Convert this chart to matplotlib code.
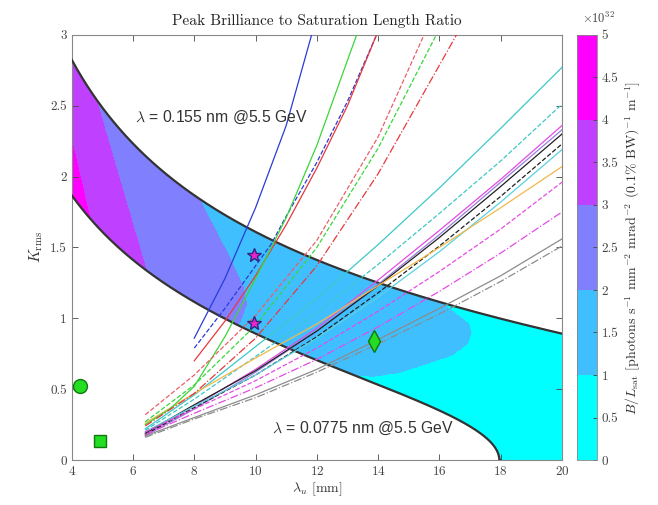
import numpy as np
import matplotlib.pyplot as plt
from matplotlib.colors import ListedColormap
from matplotlib.path import Path
from matplotlib.patches import PathPatch

plt.rcParams['font.family'] = 'cmr10'
plt.rcParams['mathtext.fontset'] = 'cm'
plt.rcParams['axes.formatter.use_mathtext'] = True

# resonance condition: lambda = lambda_u / (2 gamma^2) * (1 + K_rms^2)
energy_gev = 5.5
wl_upper_nm = 0.155
wl_lower_nm = 0.0775

# B/L_sat level boundaries (x = lambda_u [mm], y = K_rms)
b4_lu = [3.9, 4.68]
b4_k = [2.35, 1.62]
b3_lu = [4.45, 6.55]
b3_k = [2.80, 1.25]
b2_lu = [7.9, 8.5, 9.1, 9.6, 9.7, 9.5, 9.1]
b2_k = [1.95, 1.70, 1.45, 1.22, 1.10, 0.98, 0.90]
b1_lu = [15.9, 16.11, 16.6, 16.95, 17.04, 16.9, 16.4, 15.57, 14.7, 13.83, 12.74, 12.04, 11.9]
b1_k = [1.30, 1.10, 1.02, 0.96, 0.90, 0.82, 0.74, 0.68, 0.62, 0.59, 0.61, 0.71, 0.60]

# undulator curves starting at 6.4 mm, ending at right edge
lu_fan = [6.4, 8, 10, 12, 14, 16, 18, 20]
k_cyan = [0.22, 0.46, 0.80, 1.14, 1.52, 1.92, 2.34, 2.77]
k_cyan_dash = [0.21, 0.43, 0.73, 1.04, 1.38, 1.74, 2.11, 2.51]
k_magenta = [0.18, 0.38, 0.64, 0.93, 1.27, 1.62, 1.98, 2.36]
k_lilac = [0.17, 0.36, 0.62, 0.91, 1.24, 1.59, 1.96, 2.33]
k_black = [0.19, 0.39, 0.63, 0.91, 1.23, 1.57, 1.93, 2.30]
k_black_dash = [0.18, 0.37, 0.60, 0.87, 1.18, 1.51, 1.86, 2.23]
k_cyan_thin = [0.20, 0.38, 0.60, 0.86, 1.15, 1.47, 1.82, 2.19]
k_orange = [0.26, 0.47, 0.72, 0.96, 1.23, 1.50, 1.78, 2.07]
k_magenta_dash = [0.20, 0.36, 0.56, 0.79, 1.05, 1.33, 1.63, 1.96]
k_magenta_dashdot = [0.18, 0.33, 0.51, 0.71, 0.94, 1.19, 1.46, 1.75]
k_grey = [0.17, 0.30, 0.46, 0.64, 0.85, 1.07, 1.30, 1.56]
k_grey_dashdot = [0.16, 0.29, 0.44, 0.62, 0.82, 1.03, 1.26, 1.51]

# steep undulator curves leaving through the top
lu_blue = [8, 9, 10, 11, 11.83]
k_blue = [0.86, 1.28, 1.78, 2.36, 3.0]
lu_blue_dash = [8, 9, 10, 10.5, 11, 12, 13, 13.95]
k_blue_dash = [0.79, 1.07, 1.37, 1.52, 1.72, 2.10, 2.53, 3.0]
lu_red = [8, 9, 10, 11, 12, 13, 13.95]
k_red = [0.70, 0.98, 1.30, 1.66, 2.06, 2.50, 3.0]
lu_green = [6.4, 7.2, 8, 9, 10, 11, 12, 13.3]
k_green = [0.25, 0.36, 0.52, 0.87, 1.28, 1.71, 2.22, 3.0]
lu_red_dash = [6.4, 8, 10, 12, 14, 15.5]
k_red_dash = [0.32, 0.60, 1.02, 1.55, 2.28, 3.0]
lu_green_dash = [6.4, 8, 10, 12, 14, 15.9]
k_green_dash = [0.27, 0.53, 0.95, 1.50, 2.20, 3.0]
lu_red_dashdot = [6.4, 8, 10, 12, 14, 16.56]
k_red_dashdot = [0.24, 0.47, 0.86, 1.37, 2.02, 3.0]

# design points
circle_pt = (4.28, 0.52)
square_pt = (4.91, 0.137)
diamond_pt = (13.85, 0.84)
star_lu = [9.95, 9.95]
star_k = [1.45, 0.97]

cool5 = ListedColormap([(0, 1, 1), (0.25, 0.75, 1), (0.5, 0.5, 1), (0.75, 0.25, 1), (1, 0, 1)])

gamma = energy_gev * 1e3 / 0.51099895
two_g2 = 2 * gamma ** 2


def k_res(lu_mm, wl_nm):
    val = wl_nm * 1e-6 * two_g2 / lu_mm - 1
    return np.sqrt(np.clip(val, 0, None))


fig = plt.figure(figsize=(6.58, 5.05), dpi=100)
ax = fig.add_axes([0.109, 0.089, 0.745, 0.842])
cax = fig.add_axes([0.877, 0.089, 0.030, 0.842])

# field of B/L_sat levels
gx = np.linspace(4, 20, 1400)
gy = np.linspace(0, 3, 1000)
X, Y = np.meshgrid(gx, gy)
pts = np.column_stack([X.ravel(), Y.ravel()])
Z = np.full(X.shape, 0.5)
for blu, bk in [(b1_lu, b1_k), (b2_lu, b2_k), (b3_lu, b3_k), (b4_lu, b4_k)]:
    verts = [(blu[0], 5)] + list(zip(blu, bk)) + [(-1, bk[-1]), (-1, 5)]
    Z += Path(verts).contains_points(pts).reshape(X.shape)

cs = ax.contourf(X, Y, Z, levels=[0, 1, 2, 3, 4, 5], cmap=cool5, zorder=1)

# band between the two resonance curves
lu_dense = np.concatenate([np.linspace(4, 17.9, 600), np.linspace(17.9, 20, 400)])
k_up = k_res(lu_dense, wl_upper_nm)
k_lo = k_res(lu_dense, wl_lower_nm)
band = np.vstack([np.column_stack([lu_dense, k_up]),
                  np.column_stack([lu_dense[::-1], k_lo[::-1]])])
patch = PathPatch(Path(band), transform=ax.transData, facecolor='none', edgecolor='none')
ax.add_patch(patch)
cs.set_clip_path(patch)

ax.plot(lu_dense, k_up, color='#333333', lw=1.6, zorder=3)
lo_mask = lu_dense <= 17.99
ax.plot(lu_dense[lo_mask], k_lo[lo_mask], color='#333333', lw=1.6, zorder=3)

# undulator curves
fan = [
    (k_cyan, '#3cc8c8', '-'), (k_cyan_dash, '#3cc8c8', '--'),
    (k_magenta, '#e34ce3', '-'), (k_lilac, '#9a7de0', '-'),
    (k_black, '#202020', '-'), (k_black_dash, '#202020', '--'),
    (k_cyan_thin, '#5ad0e0', '-'), (k_orange, '#f2b84a', '-'),
    (k_magenta_dash, '#e34ce3', '--'), (k_magenta_dashdot, '#e34ce3', '-.'),
    (k_grey, '#8c8c8c', '-'), (k_grey_dashdot, '#8c8c8c', '-.'),
]
for kv, c, ls in fan:
    ax.plot(lu_fan, kv, color=c, ls=ls, lw=0.9, zorder=4)

steep = [
    (lu_blue, k_blue, '#2a3bd6', '-'), (lu_blue_dash, k_blue_dash, '#2a3bd6', '--'),
    (lu_red, k_red, '#e8383d', '-'), (lu_green, k_green, '#3ad63a', '-'),
    (lu_red_dash, k_red_dash, '#e8606a', '--'), (lu_green_dash, k_green_dash, '#3ad63a', '--'),
    (lu_red_dashdot, k_red_dashdot, '#e8383d', '-.'),
]
for lv, kv, c, ls in steep:
    ax.plot(lv, kv, color=c, ls=ls, lw=0.9, zorder=4)

# markers
ax.plot(*circle_pt, 'o', ms=10, mfc='#22dd22', mec='#117711', mew=1, zorder=6, clip_on=False)
ax.plot(*square_pt, 's', ms=8, mfc='#22dd22', mec='#117711', mew=1, zorder=6)
ax.plot(*diamond_pt, 'd', ms=11, mfc='#22dd22', mec='#117711', mew=1, zorder=6)
ax.plot(star_lu, star_k, '*', ls='none', ms=10, mfc='#ee22cc', mec='#2a2a80', mew=1, zorder=6)

ax.text(6.06, 2.42, r'$\lambda$ = 0.155 nm @5.5 GeV', family='Liberation Sans', fontsize=11.3,
        color='#333333', va='center', ha='left', zorder=7)
ax.text(10.53, 0.226, r'$\lambda$ = 0.0775 nm @5.5 GeV', family='Liberation Sans', fontsize=11.3,
        color='#333333', va='center', ha='left', zorder=7)

ax.set_xlim(4, 20)
ax.set_ylim(0, 3)
ax.set_xticks(np.arange(4, 21, 2))
ax.set_yticks(np.arange(0, 3.01, 0.5))
ax.set_yticklabels(['0', '0.5', '1', '1.5', '2', '2.5', '3'])
ax.tick_params(direction='in', top=True, right=True, labelsize=9.5, colors='#444444',
               length=4, width=0.6)
for s in ax.spines.values():
    s.set_color('#888888')
    s.set_linewidth(0.8)
ax.set_title('Peak Brilliance to Saturation Length Ratio', fontsize=11, pad=7, color='#222222')
ax.set_xlabel(r'$\lambda_u$ [mm]', fontsize=10, color='#333333', labelpad=2)
ax.set_ylabel(r'$K_{\rm rms}$', fontsize=11, color='#333333', labelpad=4)

cb = fig.colorbar(cs, cax=cax, ticks=np.arange(0, 5.01, 0.5))
cb.ax.set_yticklabels([f'{v:g}' for v in np.arange(0, 5.01, 0.5)])
cb.ax.tick_params(direction='in', labelsize=9.5, colors='#444444', length=3, width=0.6)
cb.outline.set_edgecolor('#888888')
cb.outline.set_linewidth(0.6)
cb.set_label(r'$B/L_{\rm sat}$ [photons s$^{-1}$ mm$^{-2}$ mrad$^{-2}$ (0.1% BW)$^{-1}$ m$^{-1}$]',
             fontsize=10, color='#333333', labelpad=4)
fig.text(0.885, 0.955, r'$\times10^{32}$', fontsize=9, color='#444444')

fig.savefig('out.png', dpi=100)
